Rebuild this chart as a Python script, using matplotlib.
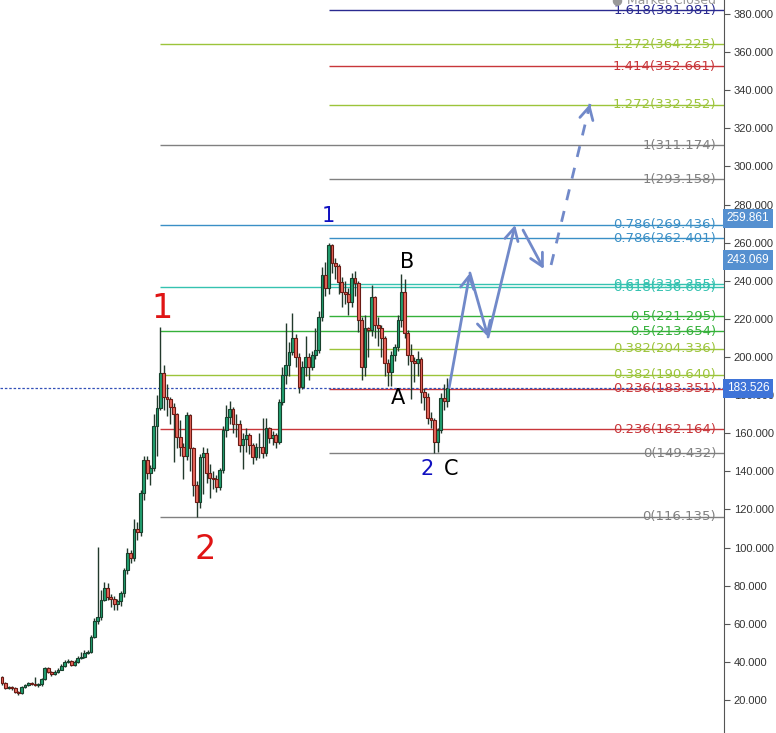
import matplotlib
matplotlib.use("Agg")
import matplotlib.pyplot as plt
import numpy as np

# candles; each open is the previous close
first_open = 32
closes = [29, 26.5, 26.8, 26.5, 24, 23.5, 27, 28, 29, 28.5,
          28, 28.2, 31, 37, 34.5, 33.5, 34.5, 36, 38, 40,
          40.5, 38.5, 40, 42, 42.5, 44.5, 45, 53, 61.5, 63.5,
          72.5, 78.8, 74, 73, 70.5, 72, 76, 88, 97, 94.5,
          110, 108, 128.6, 146, 139, 142, 164, 173, 191.5, 179,
          178, 174, 170, 158, 153, 148, 169.5, 152.5, 133, 124,
          147.5, 149.5, 139, 136.5, 136, 131.8, 140.7, 161.7, 168.5, 172.7,
          165, 164.8, 153.8, 157, 159, 153.8, 147.6, 152.8, 153, 149.6,
          162.8, 157.5, 159, 155.4, 176.4, 190.6, 195.8, 202.6, 210, 200,
          184.3, 194.8, 200, 195, 201, 203.6, 221, 243, 236, 258.8,
          249.3, 248, 239.4, 234, 233, 228.8, 241.5, 238.8, 219.4, 194.8,
          215, 214, 231.5, 216.8, 215, 210, 197, 192, 201, 205.3,
          219.4, 234, 212.6, 201, 198, 197, 199, 181.6, 179, 168,
          167, 155.4, 161.7, 178.5, 177, 183.5]
highs = [32.5, 29.5, 27.5, 27.5, 27, 24.5, 27.5, 28.5, 29.5, 29.5,
         32, 29, 31.5, 37.5, 37.5, 35, 35.5, 37, 39, 41,
         41.5, 41, 41, 43, 45, 46, 46, 54, 63, 100.5,
         78, 82, 81.5, 75.5, 74.5, 73, 77, 89.5, 100, 98.5,
         115, 113.5, 130, 148, 148, 143.5, 170, 180, 215.7, 196,
         186, 179, 176, 170.5, 167, 155, 171, 170, 153, 135,
         149, 153, 152, 144, 140, 138, 142, 164, 175, 177,
         174, 170, 167, 160, 163, 160, 155, 155, 160, 168,
         168, 163.5, 161, 160, 178, 195, 218, 208, 223, 212,
         202, 198, 211, 202, 203, 215, 224, 247, 250, 260,
         259.5, 252, 249, 242, 240, 236, 244, 245, 240, 221,
         222, 216, 238, 232, 221, 217, 211, 199, 203, 207,
         222, 243.5, 241, 214, 207, 200, 203, 200, 184, 181,
         171, 168, 163, 181, 186, 189]
lows = [28, 26, 26, 25.5, 23.5, 22.5, 23, 26.5, 27.5, 28,
        27.5, 27, 27.5, 30.5, 34, 32.5, 33, 34, 35.5, 37.5,
        39.5, 38, 38, 39.5, 41.5, 42, 44, 44.5, 52.5, 60,
        62, 72, 72.5, 69, 67.5, 67, 69.5, 74, 86, 92,
        93, 104, 106, 125, 136, 133, 140, 148, 172, 172,
        169, 165, 145, 152, 148, 136, 146, 140, 127, 116.1,
        121, 128, 134, 126, 131, 129, 130, 139, 158, 165,
        160, 158, 150, 141, 150, 149, 144, 146, 147, 147,
        148, 155, 154, 152, 154.5, 175, 186, 190, 201, 195,
        181, 183, 190, 188, 193, 199, 202, 219, 232, 233,
        244, 241, 233, 226, 228, 222, 226, 232, 213, 188,
        190, 200, 211, 210, 206, 200, 190, 185, 185, 198,
        203, 216, 210, 196, 178, 187, 190, 176, 172, 165,
        163, 149.5, 150, 160, 172, 174]

# two fibonacci tools, drawn from the wave tops to the right edge
fib1_start = 48
fib1_levels = ["0", "0.236", "0.382", "0.5", "0.618", "0.786", "1", "1.272"]
fib1_prices = [116.135, 162.164, 190.640, 213.654, 236.669, 269.436, 311.174, 364.225]
fib2_start = 99
fib2_levels = ["0", "0.236", "0.382", "0.5", "0.618", "0.786", "1", "1.272", "1.414", "1.618"]
fib2_prices = [149.432, 183.351, 204.336, 221.295, 238.255, 262.401, 293.158, 332.252, 352.661, 381.981]

level_colors = {"0": "#808080", "0.236": "#c8363a", "0.382": "#9cc43a", "0.5": "#35b13a",
                "0.618": "#35c2b0", "0.786": "#3a8fc6", "1": "#808080", "1.272": "#9cc43a",
                "1.414": "#c8363a", "1.618": "#2a2a90"}

last_price = 183.526
price_tags = [("259.861", 272.8, "#5590d0"), ("243.069", 250.9, "#5590d0"),
              ("183.526", 183.5, "#3f74d8")]

waves = [("1", 48.5, 225.7, "#e01414", 24), ("2", 61.5, 99.2, "#e01414", 24),
         ("1", 98.8, 274.0, "#1010c0", 15), ("2", 128.8, 141.2, "#1010c0", 15),
         ("A", 120.0, 178.5, "black", 15), ("B", 122.7, 249.9, "black", 15),
         ("C", 136.0, 141.2, "black", 15)]

# projected path (x in candle index, y in price)
arrows_solid = [(135.5, 184.0, 141.8, 244.1), (141.8, 244.1, 147.3, 210.5),
                (147.3, 210.5, 155.5, 269.3), (157.9, 266.6, 164.2, 246.2)]
arrow_dashed = (166.4, 248.3, 178.2, 332.8)

fig = plt.figure(figsize=(7.76, 7.33), dpi=100)
ax = fig.add_axes([0, 0, 724 / 776, 1])

o = np.array([first_open] + closes[:-1])
c = np.array(closes)
h = np.array(highs)
l = np.array(lows)
x = np.arange(len(c))
up = c >= o

ax.vlines(x, l, h, color="#22392c", lw=1.0, zorder=2)
ax.bar(x[up], c[up] - o[up], bottom=o[up], width=0.85, color="#21a070",
       edgecolor="#17402c", lw=0.8, zorder=3)
ax.bar(x[~up], o[~up] - c[~up], bottom=c[~up], width=0.85, color="#e8685c",
       edgecolor="#6a1a14", lw=0.8, zorder=3)

ylabel_tr = ax.get_yaxis_transform()
for start, levels, prices in [(fib1_start, fib1_levels, fib1_prices),
                              (fib2_start, fib2_levels, fib2_prices)]:
    for lv, p in zip(levels, prices):
        col = level_colors[lv]
        ax.hlines(p, start, 300, color=col, lw=1, zorder=1)
        ax.text(0.989, p, f"{lv}({p:.3f})", transform=ylabel_tr, ha="right",
                va="center", color=col, fontsize=9.5, zorder=4)

ax.axhline(last_price, color="#3350b8", lw=0.9, ls=(0, (2, 1.5)), zorder=1)

for txt, xi, yi, col, fs in waves:
    ax.text(xi, yi, txt, color=col, fontsize=fs, ha="center", va="center", zorder=5)

head = "->,head_length=0.75,head_width=0.4"
for x0, y0, x1, y1 in arrows_solid:
    ax.annotate("", xy=(x1, y1), xytext=(x0, y0),
                arrowprops=dict(arrowstyle=head, color="#7189c9", lw=2, shrinkA=0,
                                shrinkB=0, mutation_scale=12), zorder=6)
x0, y0, x1, y1 = arrow_dashed
ax.plot([x0, x1], [y0, y1], color="#7189c9", lw=2, ls=(0, (4, 4)), zorder=6)
ax.annotate("", xy=(x1, y1), xytext=(x1 - (x1 - x0) * 0.05, y1 - (y1 - y0) * 0.05),
            arrowprops=dict(arrowstyle=head, color="#7189c9", lw=2, shrinkA=0,
                            shrinkB=0, mutation_scale=12), zorder=6)

ax.set_xlim(-0.6, 218.8)
ax.set_ylim(2.7, 387.35)
ax.yaxis.tick_right()
ax.set_yticks(np.arange(20, 381, 20))
ax.yaxis.set_major_formatter(matplotlib.ticker.FormatStrFormatter("%.3f"))
ax.tick_params(axis="y", length=4, color="#555555", labelsize=8, labelcolor="#333333", pad=3)
for lab in ax.get_yticklabels():
    lab.set_fontfamily("Liberation Sans")
ax.set_xticks([])
for side in ["top", "bottom", "left"]:
    ax.spines[side].set_visible(False)
ax.spines["right"].set_color("#555555")

for txt, yp, col in price_tags:
    ax.text(1.004, yp, txt, transform=ylabel_tr, ha="left", va="center", color="white",
            fontsize=8.5, family="Liberation Sans", zorder=10, clip_on=False,
            bbox=dict(boxstyle="square,pad=0.3", fc=col, ec="none"))

fig.text(716 / 776, 1.0, "\u25cf Market Closed", ha="right", va="center",
         color="#999999", fontsize=9)

fig.savefig("out.png", dpi=100)
